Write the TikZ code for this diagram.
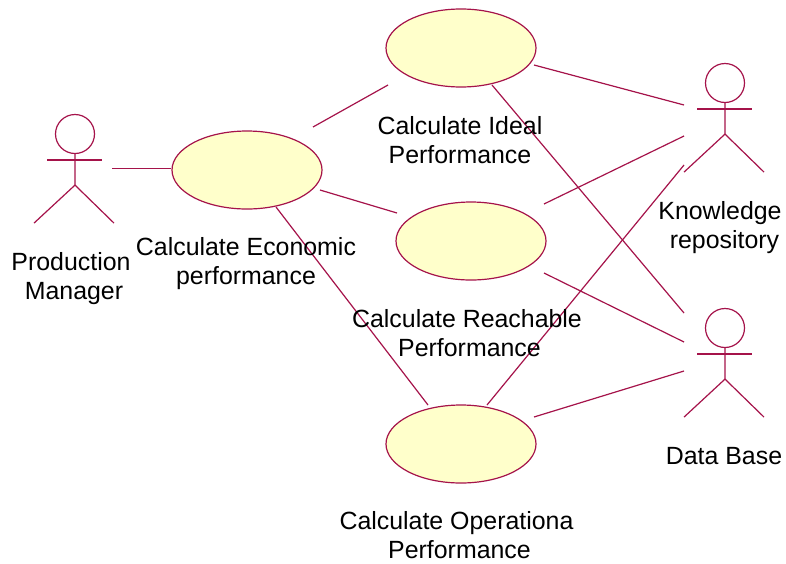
\documentclass[tikz,border=0pt]{standalone}
\usepackage{fontspec}
\setmainfont{Liberation Sans}
\usetikzlibrary{shapes.geometric}
\definecolor{umlline}{HTML}{A5134A}
\definecolor{umlfill}{HTML}{FFFFCB}
\tikzset{
  x=1pt,y=-1pt,
  umlcase/.style={ellipse,draw=umlline,fill=umlfill,line width=1.2pt,minimum width=150pt,minimum height=78pt,inner sep=0pt},
  umlhead/.style={circle,draw=umlline,line width=1.2pt,minimum size=39pt,inner sep=0pt},
  link/.style={draw=umlline,line width=1.2pt},
  lbl/.style={font=\fontsize{24.9pt}{29pt}\selectfont,align=center,text=black,inner sep=0pt},
}
\newcommand{\umlactor}[3]{%
  \node[umlhead] (#1) at (#2,#3) {};
  \draw[link] (#1.south) -- ++(0,31) coordinate (#1hip)
    -- ++(-41,38) (#1hip) -- ++(39,38);
  \draw[link] (#2-28,#3+26) -- (#2+27,#3+26);
}
\begin{document}
\begin{tikzpicture}
\useasboundingbox (0,0) rectangle (786,563);
\fill[white] (0,0) rectangle (786,563);
\umlactor{pm}{75}{134}
\umlactor{kr}{725}{83}
\umlactor{db}{725}{328}
\coordinate (pmE) at (112,168.5);
\coordinate (econA) at (313,127);
\coordinate (idealA) at (388,85);
\coordinate (econB) at (320,190);
\coordinate (reachA) at (397,213);
\coordinate (econC) at (276,207);
\coordinate (operA) at (428,405);
\coordinate (idealB) at (534,65);
\coordinate (krA) at (684,105);
\coordinate (idealC) at (492,85);
\coordinate (dbA) at (684,313);
\coordinate (reachB) at (544,204);
\coordinate (krB) at (684,136);
\coordinate (reachC) at (544,273);
\coordinate (dbB) at (684,342);
\coordinate (operB) at (487,405);
\coordinate (krC) at (684,165);
\coordinate (operC) at (534,417);
\coordinate (dbC) at (684,371);
\node[umlcase] (econ) at (247,170) {};
\node[umlcase] (ideal) at (461,48) {};
\node[umlcase] (reach) at (471,241) {};
\node[umlcase] (oper) at (461,444) {};
\draw[link] (pmE) -- (pmE -| econ.west);
\draw[link] (econA) -- (idealA);
\draw[link] (econB) -- (reachA);
\draw[link] (econC) -- (operA);
\draw[link] (idealB) -- (krA);
\draw[link] (idealC) -- (dbA);
\draw[link] (reachB) -- (krB);
\draw[link] (reachC) -- (dbB);
\draw[link] (operB) -- (krC);
\draw[link] (operC) -- (dbC);
\node[lbl] (pmT) at (71,279) {Production\\\hspace*{6pt}Manager};
\node[lbl] (econT) at (246,264) {Calculate Economic\\performance};
\node[lbl] (idealT) at (460,140) {Calculate Ideal\\Performance};
\node[lbl] (reachT) at (467,333) {Calculate Reachable\\\hspace*{5pt}Performance};
\node[lbl] (operT) at (456.5,535.5) {Calculate Operationa\\\hspace*{6pt}Performance};
\node[lbl] (krT) at (720,228) {Knowledge\\\hspace*{9pt}repository};
\node[lbl] (dbT) at (724,456) {Data Base};
\end{tikzpicture}
\end{document}
